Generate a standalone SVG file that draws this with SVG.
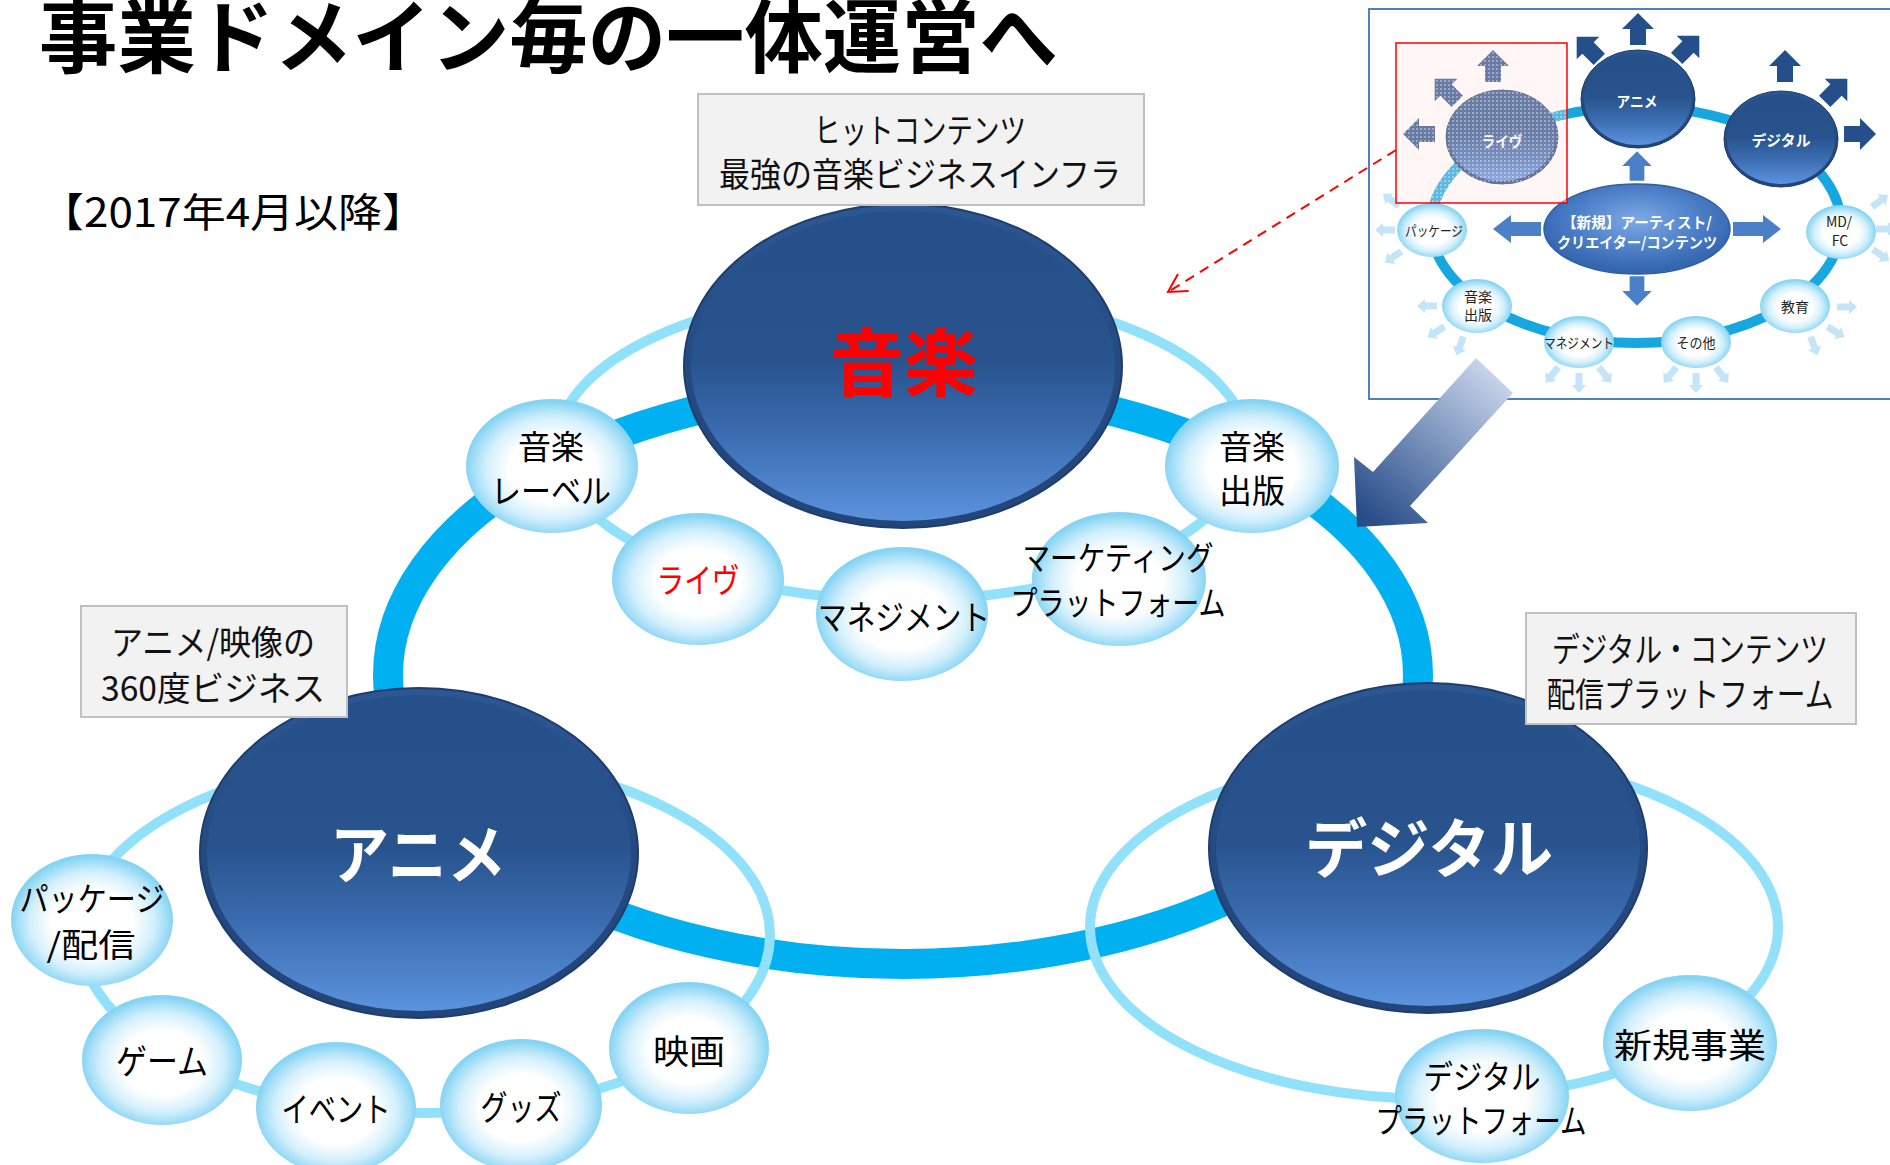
<svg xmlns="http://www.w3.org/2000/svg" xmlns:xlink="http://www.w3.org/1999/xlink" width="1890" height="1165" viewBox="0 0 1890 1165">
<defs>
<style>
.t{font-family:"Noto Sans CJK JP","Noto Sans",sans-serif;dominant-baseline:central;text-anchor:middle}
.bt{font-size:34px;fill:#000}
.b2{font-size:33px}
.xt{font-size:34px;fill:#111}
.big{font-weight:bold;fill:#fff}
.box{fill:#f2f2f2;stroke:#c0c0c0;stroke-width:2}
.ring{fill:none;stroke:#92e1fb;stroke-width:10}
.it{font-size:14px;fill:#222}
.iw{font-size:15px;font-weight:bold;fill:#fff}
</style>
<linearGradient id="bigG" x1="0" y1="0" x2="0" y2="1">
<stop offset="0" stop-color="#26508a"/>
<stop offset="0.48" stop-color="#28538d"/>
<stop offset="0.72" stop-color="#3b6cb0"/>
<stop offset="1" stop-color="#5b93de"/>
</linearGradient>
<linearGradient id="rimG" x1="0" y1="0" x2="0" y2="1">
<stop offset="0" stop-color="#2d5792"/>
<stop offset="0.5" stop-color="#254a82"/>
<stop offset="1" stop-color="#22457a"/>
</linearGradient>
<radialGradient id="bub" cx="50%" cy="52%" r="50%">
<stop offset="0" stop-color="#ffffff"/>
<stop offset="0.5" stop-color="#ffffff"/>
<stop offset="0.76" stop-color="#d4f0fc"/>
<stop offset="0.92" stop-color="#a2def7"/>
<stop offset="1" stop-color="#86d4f3"/>
</radialGradient>
<radialGradient id="ctrG" cx="50%" cy="40%" r="55%">
<stop offset="0" stop-color="#7ea9e6"/>
<stop offset="0.6" stop-color="#4d80c8"/>
<stop offset="1" stop-color="#3566b0"/>
</radialGradient>
<linearGradient id="arrG" gradientUnits="userSpaceOnUse" x1="1495" y1="372" x2="1368" y2="518">
<stop offset="0" stop-color="#c8d5ec"/>
<stop offset="1" stop-color="#284d88"/>
</linearGradient>
<pattern id="chk" width="4" height="4" patternUnits="userSpaceOnUse">
<rect width="4" height="4" fill="#ffdede" fill-opacity="0.3"/>
<rect width="2" height="2" fill="#ffffff" fill-opacity="0.35"/>
</pattern>
<path id="ad" d="M0,-16 L16,0 L8,0 L8,16 L-8,16 L-8,0 L-16,0 Z"/>
<path id="am" d="M0,-24 L14,-6 L7,-6 L7,24 L-7,24 L-7,-6 L-14,-6 Z"/>
<path id="ap" d="M0,-10 L7,-2 L3.5,-2 L3.5,10 L-3.5,10 L-3.5,-2 L-7,-2 Z"/>
<marker id="openArr" markerWidth="24" markerHeight="24" refX="20" refY="12" orient="auto" markerUnits="userSpaceOnUse">
<path d="M2,2 L20,12 L2,22" fill="none" stroke="#ff0000" stroke-width="2"/>
</marker>
</defs>

<rect width="1890" height="1165" fill="#ffffff"/>

<g id="title">
<text class="t" x="39" y="31" font-size="80" font-weight="bold" style="text-anchor:start" fill="#000" textLength="1019" lengthAdjust="spacingAndGlyphs">事業ドメイン毎の一体運営へ</text>
<text class="t" x="233" y="210" font-size="40" fill="#000" textLength="386" lengthAdjust="spacingAndGlyphs">【2017年4月以降】</text>
</g>

<g id="connectors">
<ellipse cx="903" cy="675" rx="515" ry="289" fill="none" stroke="#00b0f0" stroke-width="30"/>
<ellipse class="ring" cx="902" cy="445" rx="345" ry="155"/>
<ellipse class="ring" cx="425" cy="935" rx="345" ry="178"/>
<ellipse class="ring" cx="1434" cy="927" rx="344" ry="172"/>
</g>

<g id="n-music">
<ellipse cx="903" cy="366" rx="219" ry="162" fill="url(#rimG)" stroke="#1d3d6c" stroke-width="2"/>
<ellipse cx="903" cy="366" rx="212" ry="155" fill="url(#bigG)"/>
<text class="t" x="904" y="357" font-size="74" font-weight="bold" fill="#ff0000">音楽</text>
</g>
<g id="n-anime">
<ellipse cx="419" cy="853" rx="219" ry="165" fill="url(#rimG)" stroke="#1d3d6c" stroke-width="2"/>
<ellipse cx="419" cy="853" rx="212" ry="158" fill="url(#bigG)"/>
<text class="t big" x="418" y="850" font-size="64" textLength="176" lengthAdjust="spacingAndGlyphs">アニメ</text>
</g>
<g id="n-digital">
<ellipse cx="1428" cy="848" rx="219" ry="165" fill="url(#rimG)" stroke="#1d3d6c" stroke-width="2"/>
<ellipse cx="1428" cy="848" rx="212" ry="158" fill="url(#bigG)"/>
<text class="t big" x="1429" y="844" font-size="64" textLength="248" lengthAdjust="spacingAndGlyphs">デジタル</text>
</g>

<g id="b-label">
<ellipse cx="552" cy="466" rx="86" ry="67" fill="url(#bub)"/>
<text class="t bt b2" x="551" y="445">音楽</text>
<text class="t bt b2" x="551" y="489" textLength="120" lengthAdjust="spacingAndGlyphs">レーベル</text>
</g>
<g id="b-live">
<ellipse cx="698" cy="579" rx="86" ry="66" fill="url(#bub)"/>
<text class="t bt" x="698" y="578" style="fill:#ff0000" textLength="83" lengthAdjust="spacingAndGlyphs">ライヴ</text>
</g>
<g id="b-mgmt">
<ellipse cx="902" cy="614" rx="86" ry="67" fill="url(#bub)"/>
<text class="t bt" x="904" y="615" textLength="172" lengthAdjust="spacingAndGlyphs">マネジメント</text>
</g>
<g id="b-mkt">
<ellipse cx="1119" cy="579" rx="87" ry="67" fill="url(#bub)"/>
<text class="t bt b2" x="1118" y="556" textLength="191" lengthAdjust="spacingAndGlyphs">マーケティング</text>
<text class="t bt b2" x="1118" y="601" textLength="215" lengthAdjust="spacingAndGlyphs">プラットフォーム</text>
</g>
<g id="b-pub">
<ellipse cx="1252" cy="466" rx="87" ry="67" fill="url(#bub)"/>
<text class="t bt b2" x="1252" y="445">音楽</text>
<text class="t bt b2" x="1252" y="489">出版</text>
</g>

<g id="b-package">
<ellipse cx="92" cy="920" rx="81" ry="66" fill="url(#bub)"/>
<text class="t bt b2" x="92" y="897" textLength="145" lengthAdjust="spacingAndGlyphs">パッケージ</text>
<text class="t bt b2" x="91" y="943" textLength="89" lengthAdjust="spacingAndGlyphs">/配信</text>
</g>
<g id="b-game">
<ellipse cx="162" cy="1060" rx="80" ry="65" fill="url(#bub)"/>
<text class="t bt" x="162" y="1059" textLength="92" lengthAdjust="spacingAndGlyphs">ゲーム</text>
</g>
<g id="b-event">
<ellipse cx="336" cy="1108" rx="80" ry="66" fill="url(#bub)"/>
<text class="t bt" x="336" y="1107" textLength="109" lengthAdjust="spacingAndGlyphs">イベント</text>
</g>
<g id="b-goods">
<ellipse cx="521" cy="1105" rx="81" ry="66" fill="url(#bub)"/>
<text class="t bt" x="521" y="1105" textLength="81" lengthAdjust="spacingAndGlyphs">グッズ</text>
</g>
<g id="b-movie">
<ellipse cx="689" cy="1048" rx="80" ry="66" fill="url(#bub)"/>
<text class="t bt" x="689" y="1049" textLength="72" lengthAdjust="spacingAndGlyphs">映画</text>
</g>

<g id="b-dplat">
<ellipse cx="1482" cy="1096" rx="87" ry="67" fill="url(#bub)"/>
<text class="t bt b2" x="1482" y="1075" textLength="117" lengthAdjust="spacingAndGlyphs">デジタル</text>
<text class="t bt b2" x="1481" y="1119" textLength="211" lengthAdjust="spacingAndGlyphs">プラットフォーム</text>
</g>
<g id="b-new">
<ellipse cx="1690" cy="1043" rx="87" ry="68" fill="url(#bub)"/>
<text class="t bt" x="1690" y="1043" textLength="152" lengthAdjust="spacingAndGlyphs">新規事業</text>
</g>

<g id="box-music">
<rect class="box" x="698" y="94" width="446" height="111"/>
<text class="t xt" x="920" y="128" textLength="212" lengthAdjust="spacingAndGlyphs">ヒットコンテンツ</text>
<text class="t xt" x="920" y="172" textLength="402" lengthAdjust="spacingAndGlyphs">最強の音楽ビジネスインフラ</text>
</g>
<g id="box-anime">
<rect class="box" x="81" y="606" width="266" height="111"/>
<text class="t xt" x="213" y="640" textLength="204" lengthAdjust="spacingAndGlyphs">アニメ/映像の</text>
<text class="t xt" x="213" y="686" textLength="224" lengthAdjust="spacingAndGlyphs">360度ビジネス</text>
</g>
<g id="box-digital">
<rect class="box" x="1526" y="613" width="330" height="111"/>
<text class="t xt" x="1690" y="647" textLength="276" lengthAdjust="spacingAndGlyphs">デジタル・コンテンツ</text>
<text class="t xt" x="1690" y="692" textLength="287" lengthAdjust="spacingAndGlyphs">配信プラットフォーム</text>
</g>

<g id="inset">
<rect x="1369" y="9" width="600" height="390" fill="#ffffff" stroke="#4f81bd" stroke-width="2"/>
<ellipse cx="1636" cy="225" rx="205" ry="118" fill="none" stroke="#17a7e0" stroke-width="10"/>
<g id="inset-pale-arrows" fill="#c4e5f7">
<use xlink:href="#ap" transform="translate(1391,200) rotate(-54)"/>
<use xlink:href="#ap" transform="translate(1385,230) rotate(-90)"/>
<use xlink:href="#ap" transform="translate(1393,257) rotate(-125)"/>
<use xlink:href="#ap" transform="translate(1427,306) rotate(-90)"/>
<use xlink:href="#ap" transform="translate(1436,332) rotate(-122)"/>
<use xlink:href="#ap" transform="translate(1460,346) rotate(-160)"/>
<use xlink:href="#ap" transform="translate(1552,375) rotate(-141)"/>
<use xlink:href="#ap" transform="translate(1579,383) rotate(180)"/>
<use xlink:href="#ap" transform="translate(1605,375) rotate(141)"/>
<use xlink:href="#ap" transform="translate(1670,375) rotate(-141)"/>
<use xlink:href="#ap" transform="translate(1696,383) rotate(180)"/>
<use xlink:href="#ap" transform="translate(1722,375) rotate(141)"/>
<use xlink:href="#ap" transform="translate(1847,307) rotate(90)"/>
<use xlink:href="#ap" transform="translate(1836,332) rotate(122)"/>
<use xlink:href="#ap" transform="translate(1814,346) rotate(160)"/>
<use xlink:href="#ap" transform="translate(1880,201) rotate(54)"/>
<use xlink:href="#ap" transform="translate(1886,229) rotate(90)"/>
<use xlink:href="#ap" transform="translate(1881,255) rotate(125)"/>
</g>
<g id="i-package"><ellipse cx="1432" cy="230" rx="35" ry="27" fill="url(#bub)"/><text class="t it" x="1434" y="230" font-size="15" textLength="58" lengthAdjust="spacingAndGlyphs">パッケージ</text></g>
<g id="i-pub"><ellipse cx="1477" cy="306" rx="35" ry="27" fill="url(#bub)"/><text class="t it" x="1478" y="296" font-size="15">音楽</text><text class="t it" x="1478" y="314" font-size="15">出版</text></g>
<g id="i-mgmt"><ellipse cx="1579" cy="342" rx="35" ry="26" fill="url(#bub)"/><text class="t it" x="1579" y="342" font-size="15" textLength="70" lengthAdjust="spacingAndGlyphs">マネジメント</text></g>
<g id="i-other"><ellipse cx="1696" cy="342" rx="35" ry="26" fill="url(#bub)"/><text class="t it" x="1696" y="342" font-size="15" textLength="39" lengthAdjust="spacingAndGlyphs">その他</text></g>
<g id="i-edu"><ellipse cx="1795" cy="306" rx="35" ry="27" fill="url(#bub)"/><text class="t it" x="1795" y="306" font-size="16">教育</text></g>
<g id="i-mdfc"><ellipse cx="1841" cy="232" rx="35" ry="27" fill="url(#bub)"/><text class="t it" x="1839" y="221" font-size="15">MD/</text><text class="t it" x="1840" y="240" font-size="15">FC</text></g>
<g id="inset-dark-arrows" fill="#254f8b">
<use xlink:href="#ad" transform="translate(1638,29)"/>
<use xlink:href="#ad" transform="translate(1588,48) rotate(-45)"/>
<use xlink:href="#ad" transform="translate(1688,47) rotate(45)"/>
<use xlink:href="#ad" transform="translate(1785,66)"/>
<use xlink:href="#ad" transform="translate(1836,90) rotate(45)"/>
<use xlink:href="#ad" transform="translate(1860,134) rotate(90)"/>
<use xlink:href="#ad" transform="translate(1493,66)"/>
<use xlink:href="#ad" transform="translate(1446,90) rotate(-45)"/>
<use xlink:href="#ad" transform="translate(1419,134) rotate(-90)"/>
</g>
<g id="inset-mid-arrows" fill="#4b7fc7">
<use xlink:href="#ad" transform="translate(1637,166) scale(0.92)"/>
<use xlink:href="#ad" transform="translate(1637,291) rotate(180) scale(0.92)"/>
<use xlink:href="#am" transform="translate(1517,229) rotate(-90)"/>
<use xlink:href="#am" transform="translate(1757,229) rotate(90)"/>
</g>
<g id="i-live">
<ellipse cx="1502" cy="137" rx="56" ry="47" fill="url(#rimG)" stroke="#1d3d6c" stroke-width="1"/>
<ellipse cx="1502" cy="137" rx="53" ry="44" fill="url(#bigG)"/>
<text class="t iw" x="1502" y="140" textLength="41" lengthAdjust="spacingAndGlyphs">ライヴ</text>
</g>
<g id="i-anime">
<ellipse cx="1638" cy="99" rx="57" ry="49" fill="url(#rimG)" stroke="#1d3d6c" stroke-width="1"/>
<ellipse cx="1638" cy="99" rx="54" ry="46" fill="url(#bigG)"/>
<text class="t iw" x="1637" y="100" textLength="41" lengthAdjust="spacingAndGlyphs">アニメ</text>
</g>
<g id="i-digital">
<ellipse cx="1781" cy="139" rx="57" ry="48" fill="url(#rimG)" stroke="#1d3d6c" stroke-width="1"/>
<ellipse cx="1781" cy="139" rx="54" ry="45" fill="url(#bigG)"/>
<text class="t iw" x="1781" y="139" textLength="59" lengthAdjust="spacingAndGlyphs">デジタル</text>
</g>
<g id="i-center">
<ellipse cx="1637" cy="229" rx="93" ry="45" fill="url(#ctrG)" stroke="#2f5e9f" stroke-width="1.5"/>
<text class="t iw" x="1637" y="221" textLength="150" lengthAdjust="spacingAndGlyphs">【新規】アーティスト/</text>
<text class="t iw" x="1637" y="241" textLength="160" lengthAdjust="spacingAndGlyphs">クリエイター/コンテンツ</text>
</g>
<rect id="i-highlight" x="1396" y="43" width="171" height="160" fill="url(#chk)" stroke="#ff0000" stroke-width="1.5"/>
</g>

<g id="pointer-arrows">
<polygon points="1476,358 1513,393 1410,506 1428,523 1357,527 1354,457 1373,472" fill="url(#arrG)"/>
<line x1="1396" y1="150" x2="1168" y2="292" stroke="#ff0000" stroke-width="2" stroke-dasharray="10 7" marker-end="url(#openArr)"/>
</g>
</svg>
